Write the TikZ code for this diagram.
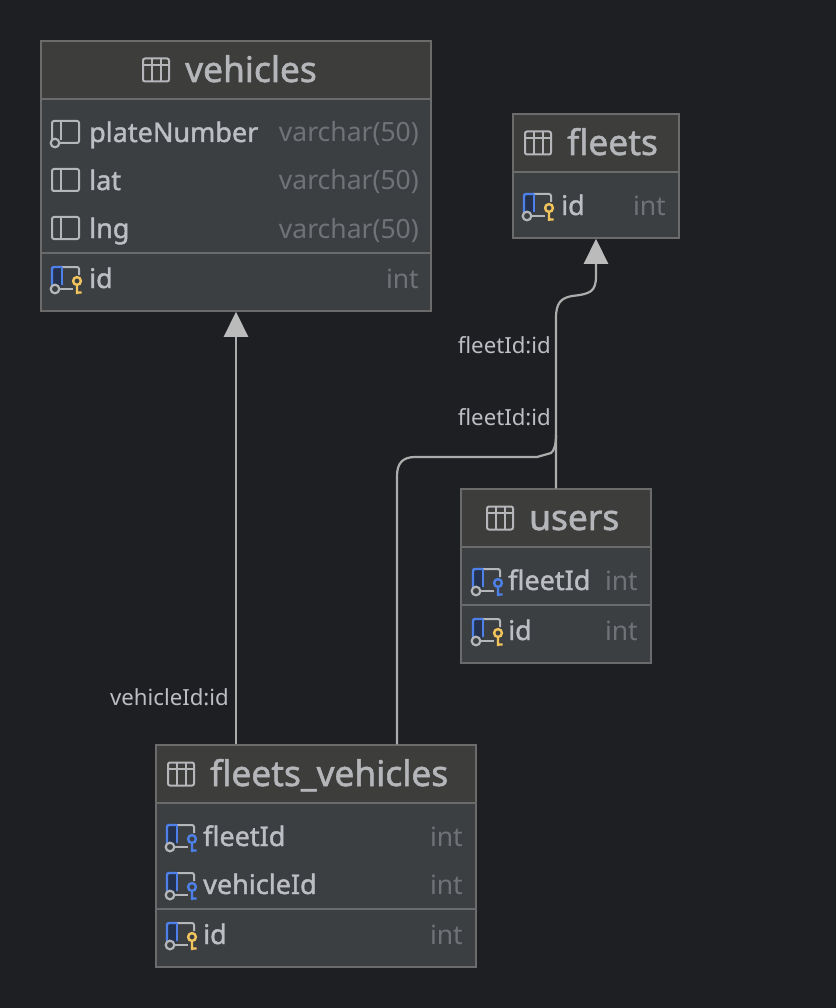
\documentclass[tikz,border=0pt]{standalone}
\usepackage{fontspec}
\setmainfont{Noto Sans}
\newfontfamily\heavyfont[FakeBold=1.5]{Noto Sans}
\usetikzlibrary{arrows.meta,positioning}
\definecolor{canvasbg}{HTML}{1E1F22}
\definecolor{headbg}{HTML}{3D3D3C}
\definecolor{bodybg}{HTML}{3C3F42}
\definecolor{boxline}{HTML}{6B6B6B}
\definecolor{titletext}{HTML}{B4B6BA}
\definecolor{nametext}{HTML}{BCBEC4}
\definecolor{typetext}{HTML}{6F7378}
\definecolor{edgeline}{HTML}{ACACAC}
\definecolor{edgetip}{HTML}{BBBBBB}
\definecolor{icongrey}{HTML}{B4B6BA}
\definecolor{iconblue}{HTML}{4E80EA}
\definecolor{iconblue2}{HTML}{25324D}
\definecolor{iconyellow}{HTML}{F2C55C}
\tikzset{
  tablebox/.style={rectangle,draw=boxline,line width=1.5pt,inner sep=0pt},
  headbox/.style={tablebox,fill=headbg},
  bodybox/.style={tablebox,fill=bodybg},
  titlelabel/.style={anchor=base west,inner sep=0pt,text=titletext,font=\heavyfont\fontsize{35.3}{35}\selectfont},
  namelabel/.style={anchor=base west,inner sep=0pt,text=nametext,font=\heavyfont\fontsize{27}{27}\selectfont},
  typelabel/.style={anchor=base east,inner sep=0pt,text=typetext,font=\fontsize{26.5}{27}\selectfont},
  edgelabel/.style={anchor=base east,inner sep=0pt,text=nametext,font=\fontsize{22.2}{23}\selectfont},
  relation/.style={draw=edgeline,line width=2.2pt},
  relationtip/.style={relation,-{Triangle[width=24pt,length=25pt,fill=edgetip,color=edgetip]}},
  tableicon/.pic={
    \draw[icongrey,line width=2pt,rounded corners=2pt] (0,-11.5) rectangle (26,11.5);
    \draw[icongrey,line width=2pt] (0,-5) -- (26,-5) (9,-11.5) -- (9,11.5) (18,-11.5) -- (18,11.5);
  },
  plainicon/.pic={
    \draw[icongrey,line width=2pt,rounded corners=2pt] (0,-11) rectangle (27,11);
    \draw[icongrey,line width=2pt] (9,-11) -- (9,11);
  },
  nullicon/.pic={
    \draw[icongrey,line width=2pt,rounded corners=2pt] (0,7) -- (0,-11) -- (27,-11) -- (27,11) -- (8,11);
    \draw[icongrey,line width=2pt] (9,-11) -- (9,8);
    \draw[icongrey,line width=2.2pt,fill=bodybg] (3,11) circle (4.3);
  },
  linkicon/.pic={
    \fill[iconblue2] (1,-10) rectangle (9,9);
    \draw[icongrey,line width=2pt,rounded corners=2pt] (9,-11) -- (27,-11) -- (27,-3);
    \draw[icongrey,line width=2pt] (8,11) -- (21,11);
    \draw[iconblue,line width=2.4pt,rounded corners=2pt] (10,-11) -- (0,-11) -- (0,7);
    \draw[iconblue,line width=2.4pt] (10,-11) -- (10,7);
    \draw[icongrey,line width=2.2pt,fill=bodybg] (3,11) circle (4.3);
    \draw[#1,line width=2.4pt] (25,3) circle (3.9) (25,7) -- (25,16) (25,14.5) -- (29.5,14.5);
  }
}
\begin{document}
\begin{tikzpicture}[x=1pt,y=-1pt]
\useasboundingbox[fill=canvasbg] (0,0) rectangle (836,1008);
% tables
\node[headbox,minimum width=390pt,minimum height=58pt] (vehicles_head) at (236,70) {};
\node[bodybox,minimum width=390pt,minimum height=154pt] (vehicles_body) at (236,176) {};
\node[bodybox,minimum width=390pt,minimum height=58pt] (vehicles_keys) at (236,282) {};
\node[headbox,minimum width=166pt,minimum height=58pt] (fleets_head) at (596,143) {};
\node[bodybox,minimum width=166pt,minimum height=66pt] (fleets_keys) at (596,205) {};
\node[headbox,minimum width=190pt,minimum height=58pt] (users_head) at (556,518) {};
\node[bodybox,minimum width=190pt,minimum height=58pt] (users_body) at (556,576) {};
\node[bodybox,minimum width=190pt,minimum height=58pt] (users_keys) at (556,634) {};
\node[headbox,minimum width=320pt,minimum height=58pt] (fv_head) at (316,774) {};
\node[bodybox,minimum width=320pt,minimum height=106pt] (fv_body) at (316,856) {};
\node[bodybox,minimum width=320pt,minimum height=58pt] (fv_keys) at (316,938) {};
% vehicles
\pic at (143,70) {tableicon};
\node[titlelabel] (vehicles_title) at (185,82) {vehicles};
\pic at (52,132) {nullicon};
\node[namelabel] (plate_name) at (89,142) {plateNumber};
\node[typelabel] (plate_type) at (419,142) {varchar(50)};
\pic at (52,180) {plainicon};
\node[namelabel] (lat_name) at (89,190) {lat};
\node[typelabel] (lat_type) at (419,190) {varchar(50)};
\pic at (52,228) {plainicon};
\node[namelabel] (lng_name) at (89,238) {lng};
\node[typelabel] (lng_type) at (419,238) {varchar(50)};
\pic at (52,278) {linkicon=iconyellow};
\node[namelabel] (vid_name) at (89,288) {id};
\node[typelabel] (vid_type) at (419,288) {int};
% fleets
\pic at (525,143) {tableicon};
\node[titlelabel] (fleets_title) at (567,155) {fleets};
\pic at (524,205) {linkicon=iconyellow};
\node[namelabel] (fid_name) at (561,215) {id};
\node[typelabel] (fid_type) at (666,215) {int};
% users
\pic at (487,518) {tableicon};
\node[titlelabel] (users_title) at (529,530) {users};
\pic at (473,580) {linkicon=iconblue};
\node[namelabel] (ufleet_name) at (508,590) {fleetId};
\node[typelabel] (ufleet_type) at (638,590) {int};
\pic at (473,630) {linkicon=iconyellow};
\node[namelabel] (uid_name) at (508,640) {id};
\node[typelabel] (uid_type) at (638,640) {int};
% fleets_vehicles
\pic at (168,774) {tableicon};
\node[titlelabel] (fv_title) at (210,786) {fleets\_vehicles};
\pic at (167,836) {linkicon=iconblue};
\node[namelabel] (fvfleet_name) at (203,846) {fleetId};
\node[typelabel] (fvfleet_type) at (463,846) {int};
\pic at (167,884) {linkicon=iconblue};
\node[namelabel] (fvveh_name) at (203,894) {vehicleId};
\node[typelabel] (fvveh_type) at (463,894) {int};
\pic at (167,934) {linkicon=iconyellow};
\node[namelabel] (fvid_name) at (203,944) {id};
\node[typelabel] (fvid_type) at (463,944) {int};
% relations
\coordinate[xshift=80.75pt] (fv_vehicle) at (fv_head.north west);
\coordinate[xshift=241.75pt] (fv_fleet) at (fv_head.north west);
\draw[relationtip] (fv_vehicle) -- (vehicles_keys.south);
\draw[relationtip] (users_head.north) -- (556,318) .. controls (556,303) and (561,298) .. (572,296) .. controls (590,294) and (596,292) .. (596,276) -- (fleets_keys.south);
\draw[relation] (fv_fleet) -- (397,476) .. controls (397,463) and (403,457) .. (415,457) -- (537,457) -- (551,453) .. controls (554,451) and (556,445) .. (556,435);
\node[edgelabel] (edge_fleet1) at (551,353) {fleetId:id};
\node[edgelabel] (edge_fleet2) at (551,425) {fleetId:id};
\node[edgelabel] (edge_vehicle) at (229,705) {vehicleId:id};
\end{tikzpicture}
\end{document}
